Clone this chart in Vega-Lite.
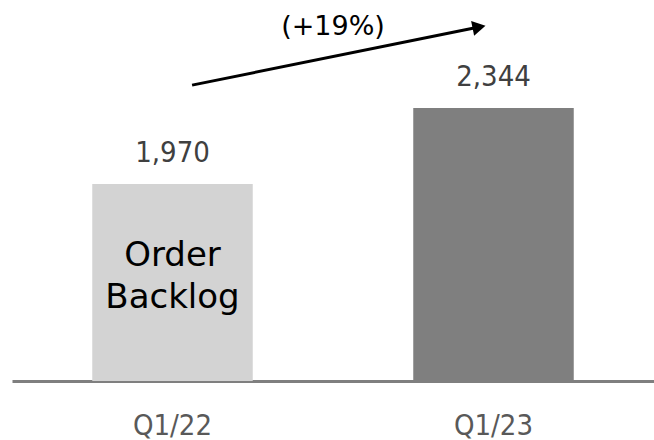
{
  "$schema": "https://vega.github.io/schema/vega-lite/v6.json",
  "width": 642,
  "height": 381,
  "autosize": {"type": "none"},
  "padding": {"left": 12, "top": 0, "right": 0, "bottom": 59},
  "background": "white",
  "config": {"view": {"stroke": null}},
  "layer": [
    {
      "data": {"values": [
        {"quarter": "Q1/22", "value": 1970, "label": "1,970", "inside": "Order Backlog"},
        {"quarter": "Q1/23", "value": 2344, "label": "2,344", "inside": ""}
      ]},
      "encoding": {
        "x": {
          "field": "quarter", "type": "nominal", "sort": null,
          "scale": {"paddingInner": 0.5, "paddingOuter": 0.25},
          "axis": {
            "title": null, "labelAngle": 0, "ticks": false, "grid": false,
            "domainColor": "#7f7f7f", "domainWidth": 3,
            "labelFont": "DejaVu Sans Condensed, DejaVu Sans", "labelFontSize": 29,
            "labelColor": "#595959", "labelPadding": 30
          }
        }
      },
      "layer": [
        {
          "mark": {"type": "bar"},
          "encoding": {
            "y": {"field": "value", "type": "quantitative", "scale": {"domain": [1000, 2876], "zero": false, "nice": false}, "axis": null},
            "y2": {"datum": 1000},
            "color": {"field": "quarter", "type": "nominal", "sort": null, "scale": {"range": ["#d3d3d3", "#7f7f7f"]}, "legend": null}
          }
        },
        {
          "mark": {"type": "text", "dy": -31, "baseline": "middle", "font": "DejaVu Sans Condensed, DejaVu Sans", "fontSize": 29, "color": "#404040"},
          "encoding": {
            "y": {"field": "value", "type": "quantitative"},
            "text": {"field": "label"}
          }
        },
        {
          "mark": {"type": "text", "lineBreak": " ", "lineHeight": 42, "baseline": "middle", "font": "DejaVu Sans", "fontSize": 34, "color": "#000000"},
          "encoding": {
            "y": {"datum": 1615},
            "text": {"field": "inside"}
          }
        }
      ]
    },
    {
      "data": {"values": [
        {"x": 0.561, "y": 2457, "x2": 1.455, "y2": 2743, "tx": 1.0, "ty": 2745, "text": "(+19%)"}
      ]},
      "layer": [
        {
          "mark": {"type": "rule", "strokeWidth": 3, "color": "#000000"},
          "encoding": {
            "x": {"field": "x", "type": "quantitative", "scale": {"domain": [0, 2], "nice": false}, "axis": null},
            "x2": {"field": "x2"},
            "y": {"field": "y", "type": "quantitative"},
            "y2": {"field": "y2"}
          }
        },
        {
          "mark": {"type": "point", "shape": "triangle-right", "filled": true, "opacity": 1, "size": 230, "angle": 348.5, "color": "#000000"},
          "encoding": {
            "x": {"field": "x2", "type": "quantitative", "scale": {"domain": [0, 2], "nice": false}, "axis": null},
            "y": {"field": "y2", "type": "quantitative"}
          }
        },
        {
          "mark": {"type": "text", "baseline": "middle", "font": "DejaVu Sans", "fontSize": 27, "color": "#000000"},
          "encoding": {
            "x": {"field": "tx", "type": "quantitative", "scale": {"domain": [0, 2], "nice": false}, "axis": null},
            "y": {"field": "ty", "type": "quantitative"},
            "text": {"field": "text"}
          }
        }
      ]
    }
  ],
  "resolve": {"scale": {"x": "independent"}}
}
